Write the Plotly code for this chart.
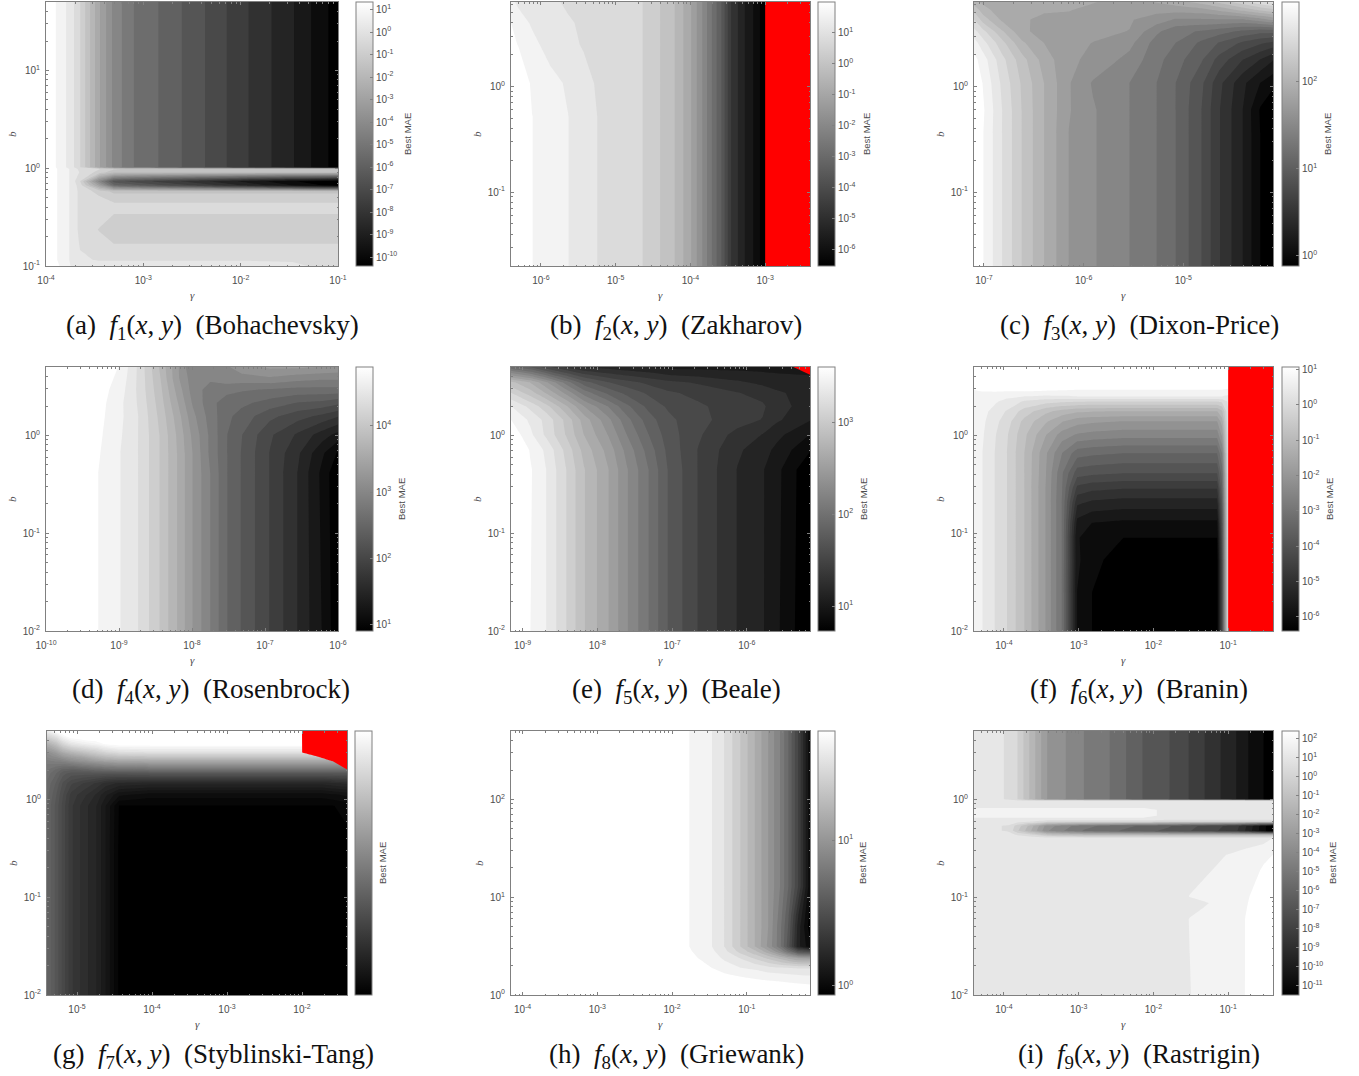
import plotly.graph_objects as go

W, H = 1359, 1076
N = None

# exponents of gamma and b at the sample nodes; shade = position on the colour bar (0 black .. 100 white)
gamma_a = [-4, -3.9, -3.75, -3.65, -3.45, -3.3, -3.1, -2.85, -2.375, -1.933, -1.466, -1.0]
b_a = [-1.0, -0.935, -0.782, -0.629, -0.458, -0.407, -0.356, -0.29, -0.237, -0.175, -0.134, -0.042, -0.008, 0.009, 1.7]
shade_a = [
    [102, 97, 91, 88, 88, 88, 88, 88, 88, 88, 87, 85],
    [102, 96, 90.5, 87, 86, 86, 86, 86, 86, 86, 86, 84.5],
    [102, 96, 90.5, 86, 84, 82, 82, 82, 82, 82, 82, 82],
    [102, 96, 90.5, 85, 81.5, 79, 79, 79, 79, 79, 79, 79],
    [102, 96, 90.5, 85, 84, 82, 82, 82, 82, 82, 82, 82],
    [102, 96, 90.5, 85, 85, 84, 84, 84, 84, 84, 84, 84],
    [102, 96, 90.5, 85, 83, 82, 82, 82, 82, 82, 82, 82],
    [102, 96, 90.5, 85, 82, 79, 79, 79, 79, 79, 79, 79],
    [102, 96, 90.5, 85, 80, 76, 76, 76, 76, 76, 76, 76],
    [102, 96, 90.5, 84, 62, 42, 38, 33, 25, 17, 9, 2],
    [102, 96, 90.5, 82, 52, 34, 30, 26, 19, 12, 5, 0],
    [102, 96, 90.5, 86, 80, 74, 74, 74, 74, 74, 74, 74],
    [102, 96, 90.5, 85, 82, 78, 76, 76, 76, 76, 76, 76],
    [102, 95.5, 89, 82, 64, 53, 45.5, 41, 32, 23, 14, 2],
    [102, 95.5, 89, 82, 64, 53, 45.5, 41, 32, 23, 14, 2],
]

gamma_b = [-6.4, -6.3, -6.115, -5.865, -5.638, -5.429, -5.215, -4.649, -4.391, -4.217, -4.09, -3.995, -3.848, -3.714, -3.58, -3.46, -3.282, -3.157, -3.0, -2.995, -2.4]
b_b = [-1.7, -0.283, 0.033, 0.396, 0.601, 0.8]
shade_b = [
    [103, 100, 95.5, 93, 91, 88.5, 86, 82, 77, 73, 68, 64, 55, 45.5, 36, 23, 14, 9, 1, N, N],
    [103, 100, 95.5, 93, 91, 88.5, 86, 82, 77, 73, 68, 64, 55, 45.5, 36, 23, 14, 9, 1, N, N],
    [103, 100, 94.5, 92.3, 90.3, 88, 85.5, 82, 77, 73, 68, 64, 55, 45.5, 36, 23, 14, 9, 1, N, N],
    [97, 95.2, 92.2, 89, 87.5, 86, 85, 82, 77, 73, 68, 64, 55, 45.5, 36, 23, 14, 9, 1, N, N],
    [95.5, 93, 90.3, 88, 87, 85.5, 84.8, 82, 77, 73, 68, 64, 55, 45.5, 36, 23, 14, 9, 1, N, N],
    [92, 90, 89, 87.5, 85.5, 84.5, 84, 82, 77, 73, 68, 64, 55, 45.5, 36, 23, 14, 9, 1, N, N],
]

gamma_c = [-7.1, -7.006, -6.81, -6.616, -6.392, -6.148, -5.904, -5.54, -5.269, -5.079, -4.821, -4.638, -4.41, -4.227, -4.1]
b_c = [-1.7, -0.44, -0.22, 0.033, 0.254, 0.412, 0.522, 0.633, 0.727, 0.8]
shade_c = [
    [100, 95.5, 86, 77, 68, 59, 55, 50, 45.5, 41, 32, 23, 14, 4.5, 1],
    [100, 95.5, 86, 77, 68, 59, 55, 50, 45.5, 41, 32, 23, 14, 4.5, 1],
    [100, 96, 86, 77, 68, 59.5, 55, 50, 45.5, 41, 32, 23, 14, 4, 0],
    [100, 95, 85, 76.5, 68, 59.5, 54, 50, 45.5, 41, 33, 24, 15, 9, 6],
    [97, 93, 83, 74.5, 66, 60, 58, 53, 47, 43, 37, 30, 23, 18, 14],
    [93, 88, 78.5, 69, 63.5, 60, 59, 56, 48, 45.5, 40, 36, 31, 28, 26],
    [88, 83, 73, 64.5, 62, 59.5, 60, 59, 51, 47, 45, 43, 40, 38, 38],
    [82, 75, 67, 64, 63, 62, 61, 59.5, 57, 54, 54, 54, 54, 57, 60],
    [76, 70, 65, 64, 64, 64, 62, 60, 60.5, 61, 62, 65, 70, 74, 76],
    [70, 67, 65, 64.5, 64.5, 64.5, 64, 61, 64, 66, 70, 74, 80, 85, 88],
]

gamma_d = [-10, -9.287, -8.985, -8.72, -8.437, -8.2, -7.99, -7.75, -7.52, -7.317, -6.93, -6.55, -6.22, -6.0]
b_d = [-2.0, -0.384, -0.18, 0.008, 0.195, 0.332, 0.468, 0.587, 0.7]
shade_d = [
    [110, 95.5, 91, 86, 77, 68, 59, 50, 41, 36, 27, 18, 9, 1],
    [110, 95.5, 91, 86, 77, 68, 59, 50, 41, 36, 27, 18, 8, 0.5],
    [110, 96, 91, 86, 77, 68, 59, 49, 41, 36, 27, 19, 10, 4],
    [110, 96.5, 91.5, 86, 77, 67.5, 58, 49, 41, 36.5, 28, 22, 16, 12],
    [110, 97, 92, 86, 76, 66, 56, 48, 42, 39, 33, 29, 26, 23],
    [110, 97.5, 92, 85.5, 75, 64, 54, 47, 43, 42, 39, 36, 35, 33],
    [110, 98, 93, 85, 74, 62, 52.5, 48, 47, 46, 45, 44, 44, 44],
    [112, 99, 94, 85, 73, 60, 52, 51, 53, 53, 54, 52, 51, 51],
    [115, 100, 95, 85, 72, 60, 50, 50, 54, 57, 60, 60, 59, 58],
]

gamma_e = [-9.155, -8.897, -8.687, -8.42, -8.175, -7.859, -7.605, -7.315, -7.048, -6.647, -6.126, -5.787, -5.6, -5.155]
b_e = [-2.0, -0.35, -0.146, 0.008, 0.161, 0.298, 0.434, 0.543, 0.7]
shade_e = [
    [105, 95.5, 91, 82, 73, 64, 55, 45.5, 36, 27, 18, 14, 10, 0],
    [105, 96, 91, 82, 73, 64, 55, 45.5, 36, 27, 18, 14, 10.5, 0.5],
    [103, 95, 90, 80.5, 71, 62, 53, 43.5, 35, 27, 19, 15.5, 12.5, 5],
    [99, 92, 85.5, 77, 68, 59, 50, 41, 34, 28, 21, 18, 15, 9],
    [95.5, 90, 85, 76, 66, 56, 47, 38.5, 33, 28.5, 25, 22.5, 19, 14],
    [91, 85, 79, 69, 59, 50, 42, 35, 31, 28, 25, 23.5, 20, 16],
    [82, 75, 68, 58, 48, 40, 35, 31, 28, 26, 23, 21, 19, 16],
    [74, 68, 60, 48, 38, 32, 29, 26, 24, 22, 19, 17, 16, 15],
    [42, 36, 29, 22, 18, 16.5, 15, 14, 12, 12, 12, 12, 12, 12],
]

gamma_f = [-4.4, -4.289, -4.11, -3.963, -3.732, -3.442, -3.22, -3.019, -2.819, -2.396, -1.148, -1.082, -1.0, -0.995, -0.4]
b_f = [-2.0, -1.612, -1.271, -1.049, -0.896, -0.691, -0.538, -0.384, -0.18, 0.008, 0.144, 0.247, 0.349, 0.4, 0.468, 0.57, 0.7]
shade_f = [
    [93, 91, 86, 82, 73, 59, 45, 9, 4.5, 2, 2, 30, 85, N, N],
    [93, 91, 86, 82, 73, 59, 45, 9, 4.5, 2, 2, 30, 85, N, N],
    [93, 91, 86, 82, 73, 59, 45, 10, 6, 2, 2, 30, 85, N, N],
    [93, 91, 86, 82, 73, 59, 45, 9.5, 7, 4.5, 4.5, 32, 85, N, N],
    [93, 91, 86, 82, 73, 59, 45, 12, 9, 8, 8, 33, 85, N, N],
    [93, 91, 86, 82, 73, 59, 45, 19, 17, 16, 16, 36, 85, N, N],
    [93, 91, 86, 82, 73, 59, 45.5, 26, 24, 23, 23, 40, 85, N, N],
    [93, 91, 86, 82, 73, 59.5, 46, 34, 33, 32, 32, 43, 85, N, N],
    [93, 91, 86, 82, 73, 60, 50, 43, 42, 41, 41, 50, 85, N, N],
    [93, 91.5, 86.5, 82.5, 74, 64, 57, 54, 53, 52, 52, 60, 85, N, N],
    [93.5, 92, 87.5, 84, 76, 69, 64, 61, 60, 59, 59, 66, 86, N, N],
    [93.5, 92.5, 89, 86, 80, 74, 71, 69, 68.5, 68, 68, 72, 86, N, N],
    [94, 93, 91.5, 89.5, 86, 84, 83, 82.5, 82, 82, 82, 83, 87, N, N],
    [94.5, 94, 93, 92, 91, 90, 90.5, 91, 91, 91, 91, 91, 90, N, N],
    [95.5, 96, 96.5, 96.5, 97, 96.5, 96, 95.5, 95.5, 95.5, 95.5, 95.5, 95, N, N],
    [100, 100, 100, 100, 100, 100, 100, 100, 100, 100, 100, 100, 100, N, N],
    [102, 102, 102, 102, 102, 102, 102, 102, 102, 102, 102, 102, 102, N, N],
]

gamma_g = [-5.4, -5.275, -5.186, -5.075, -4.919, -4.741, -4.617, -4.439, -4.03, -2.917, -2.0, -1.996, -1.76, -1.582, -1.4]
b_g = [-2.0, -0.55, -0.066, 0.046, 0.165, 0.268, 0.302, 0.315, 0.38, 0.394, 0.424, 0.438, 0.472, 0.485, 0.567, 0.642, 0.7]
shade_g = [
    [40, 34, 29, 23, 19, 15, 10, 2, 1, 1, 1, 1, 1, 1, 1],
    [40, 34, 29, 23, 19, 15, 10, 2, 1, 1, 1, 1, 1, 1, 1],
    [40, 34, 29, 23, 19, 15, 10, 2.4, 2.4, 2.4, 2.4, 2.4, 2.4, 2.4, 3.5],
    [41, 35, 30, 24, 21, 17, 13, 8, 6, 6, 6, 6, 6, 7, 8],
    [42, 37, 32, 28, 25, 22, 19, 17, 16, 16, 16, 16, 16, 17, 18],
    [44, 40, 36, 34, 34, 34, 34, 34, 35, 35, 35, 35, 35, 35, 35],
    [45, 42, 39, 38, 39, 41, 42, 43, 44, 44, 44, 44, 44, 44, 44],
    [46, 43, 41, 40, 42, 44, 45, 46, 47, 47, 47, 47, 47, 47, 47],
    [48, 49, 50, 52, 55, 58, 60, 62, 63, 63, 63, 63, 63, 63, 63],
    [49, 51, 52, 55, 58, 62, 64, 65, 66, 66, 66, 66, 66, 66, 66],
    [52, 54, 57, 60, 63, 68, 71, 73, 74, 74, 74, 74, 74, 74, 74],
    [53, 56, 60, 63, 66, 71, 74, 76, 77, 77, 77, 77, 77, 77, 77],
    [55, 60, 65, 69, 73, 78, 81, 84, 85, 85, 85, 85, 85, 85, 85],
    [57, 62, 68, 72, 76, 80, 84, 87, 88, 88, 88, 88, 88, 88, 88],
    [68, 75, 83, 89, 92, 95, 98, 100, 100, 100, 100, 100, 100, 100, 100],
    [82, 88, 95, 100, 102, 102, 102, 102, 102, 102, 102, 102, 102, 102, 102],
    [92, 100, 102, 102, 102, 102, 102, 102, 102, 102, 102, 102, 102, 102, 102],
]

gamma_h = [-4.155, -1.772, -1.469, -1.291, -1.081, -0.89, -0.712, -0.556, -0.445, -0.311, -0.155]
b_h = [0, 0.106, 0.197, 0.276, 0.378, 0.446, 0.497, 0.701, 0.804, 1.11, 2.7]
shade_h = [
    [102, 102, 102, 102, 102, 102, 102, 102, 102, 102, 102],
    [102, 102, 101, 100, 99, 98, 97.5, 97, 96.5, 96, 95.5],
    [102, 101, 98, 96.5, 95, 94, 93, 92.5, 92, 91.5, 91],
    [102, 99, 95.5, 93, 91, 90, 88, 87, 86.5, 86, 86],
    [102, 97, 93, 90, 86, 81, 76, 71, 67, 63, 62],
    [102, 96, 92, 87.5, 80, 74, 65, 55, 45, 33, 30],
    [102, 95.5, 91, 86, 77, 68, 58, 47, 34, 15, 6],
    [102, 95.5, 91, 86, 77, 68, 59, 47, 36, 16, 2],
    [102, 95.5, 91, 86, 77, 68, 59, 48, 37, 18, 3],
    [102, 95.5, 91, 86, 77, 68, 59, 50, 41, 27, 6],
    [102, 95.5, 91, 86, 77, 68, 59, 50, 41, 27, 6],
]

gamma_i = [-4.4, -3.946, -3.821, -3.665, -3.42, -3.197, -2.93, -2.587, -2.128, -1.794, -1.514, -1.327, -0.903, -0.77, -0.525, -0.4]
b_i = [-2.0, -1.224, -1.06, -0.992, -0.72, -0.567, -0.396, -0.362, -0.321, -0.27, -0.226, -0.195, -0.168, -0.107, -0.08, -0.015, 0.002, 0.7]
shade_i = [
    [89, 89, 89, 89, 89, 89, 89, 89, 89, 89, 90.8, 92, 94.5, 95.5, 97, 98],
    [89, 89, 89, 89, 89, 89, 89, 89, 89, 89, 91, 92, 94, 95.5, 97, 98],
    [89, 89, 89, 89, 89, 89, 89, 89, 89, 89, 90, 90.5, 93, 95.2, 97, 98],
    [89, 89, 89, 89, 89, 89, 89, 89, 89, 89, 91, 92, 93.5, 95, 97, 98],
    [89, 89, 89, 89, 89, 89, 89, 89, 89, 89, 89.5, 90.3, 92.5, 93, 96, 97],
    [89, 89, 89, 89, 89, 89, 89, 89, 89, 89, 89.5, 90, 91.3, 92, 94.5, 95.5],
    [89, 89, 89, 89, 89, 89, 89, 89, 89, 89, 89, 89, 89, 89, 89, 91],
    [88, 88, 86, 84, 76, 74, 72, 72, 72, 72, 72, 72, 72, 72, 72, 72],
    [88, 86, 78, 70, 55, 50, 45, 42, 38, 35, 32, 30, 24, 18, 6, 0],
    [88, 86, 80, 72, 57, 52, 47, 44, 40, 37, 33, 31, 25, 19, 6, 0],
    [89, 89, 88, 87, 84, 84, 84, 84, 84, 82, 82, 82, 82, 82, 82, 82],
    [90, 90, 90, 90, 90, 90, 90, 90, 90, 89, 89, 89, 89, 89, 89, 89],
    [93, 93, 93, 93, 93, 93, 93, 93, 93, 89, 89, 89, 89, 89, 89, 89],
    [93, 93, 93, 93, 93, 93, 93, 93, 93, 89, 89, 89, 89, 89, 89, 89],
    [90, 90, 90, 90, 90, 90, 90, 90, 90, 89, 89, 89, 89, 89, 89, 89],
    [89, 88, 88, 88, 88, 88, 88, 88, 88, 88, 88, 88, 88, 88, 88, 88],
    [89, 86, 82, 73, 59, 55, 50, 45.5, 36, 32, 27, 23, 14, 10, 4.5, 0],
    [89, 86, 82, 73, 59, 55, 50, 45.5, 36, 32, 27, 23, 14, 10, 4.5, 0],
]

# the diverged (red) regions: 1 inside, 0 outside, on their own nodes
red_gamma_b = [-3.002, -2.998, -2.4]
red_b_b = [-1.7, 0.8]
red_b = [[0, 1, 1], [0, 1, 1]]
red_gamma_e = [-5.601, -5.155]
red_b_e = [0.544, 0.7]
red_e = [[0, 0], [0, 1]]
red_gamma_f = [-1.002, -0.998, -0.4]
red_b_f = [-2.0, 0.7]
red_f = [[0, 1, 1], [0, 1, 1]]
red_gamma_g = [-2.002, -1.998, -1.76, -1.582, -1.4]
red_b_g = [0.233, 0.308, 0.387, 0.431, 0.479, 0.7]
red_g = [[0, 0, 0, 0, 0], [0, 0, 0, 0, 0.5], [0, 0, 0, 0.5, 1], [0, 0, 0.5, 1, 1], [0, 0.5, 1, 1, 1], [0, 1, 1, 1, 1]]
red_regions = {1: (red_gamma_b, red_b_b, red_b), 4: (red_gamma_e, red_b_e, red_e),
               5: (red_gamma_f, red_b_f, red_f), 6: (red_gamma_g, red_b_g, red_g)}

captions = ["(a)", "(b)", "(c)", "(d)", "(e)", "(f)", "(g)", "(h)", "(i)"]
names = ["Bohachevsky", "Zakharov", "Dixon-Price", "Rosenbrock", "Beale", "Branin", "Styblinski-Tang", "Griewank", "Rastrigin"]
gamma_ticks = [[-4, -3, -2, -1], [-6, -5, -4, -3], [-7, -6, -5], [-10, -9, -8, -7, -6], [-9, -8, -7, -6],
               [-4, -3, -2, -1], [-5, -4, -3, -2], [-4, -3, -2, -1], [-4, -3, -2, -1]]
b_ticks = [[-1, 0, 1], [-1, 0], [-1, 0], [-2, -1, 0], [-2, -1, 0], [-2, -1, 0], [-2, -1, 0], [0, 1, 2], [-2, -1, 0]]
bar_ticks = [list(range(-10, 2)), list(range(-6, 2)), [0, 1, 2], [1, 2, 3, 4], [1, 2, 3], list(range(-6, 2)), [],
             [0, 1], list(range(-11, 3))]
bar_range = [(-10.4, 1.34), (-6.54, 1.98), (-0.115, 2.91), (0.9, 4.89), (0.73, 3.6), (-6.4, 1.065), (0, 4), (-0.064, 1.75), (-11.49, 2.38)]
x_range = [(-4, -1), (-6.4, -2.4), (-7.1, -4.1), (-10, -6), (-9.155, -5.155), (-4.4, -0.4), (-5.4, -1.4), (-4.155, -0.155), (-4.4, -0.4)]
y_range = [(-1, 1.7), (-1.7, 0.8), (-1.7, 0.8), (-2, 0.7), (-2, 0.7), (-2, 0.7), (-2, 0.7), (0, 2.7), (-2, 0.7)]
gammas = [gamma_a, gamma_b, gamma_c, gamma_d, gamma_e, gamma_f, gamma_g, gamma_h, gamma_i]
bs = [b_a, b_b, b_c, b_d, b_e, b_f, b_g, b_h, b_i]
shades = [shade_a, shade_b, shade_c, shade_d, shade_e, shade_f, shade_g, shade_h, shade_i]

# pixel layout of the panels
boxes = [(46, 338, 2, 266), (511, 810, 2, 266), (974, 1273, 2, 266),
         (46, 338, 367, 631), (511, 810, 367, 631), (974, 1273, 367, 631),
         (47, 347, 731, 995), (511, 810, 731, 995), (974, 1273, 731, 995)]
bars = [356, 818, 1282, 356, 818, 1282, 355, 818, 1282]
mae_x = [407, 866, 1327, 401, 863, 1329, 383, 863, 1333]
b_x = [12, 477, 940, 12, 477, 940, 13, 479, 940]
cap_x = [212, 676, 1139, 211, 676, 1139, 213, 676, 1139]
cap_y = [327, 327, 327, 691, 691, 691, 1056, 1056, 1056]
gam_y = [295, 295, 295, 660, 660, 660, 1024, 1024, 1024]
bands = [22, 22, 22, 22, 22, 22, 40, 22, 22]

GRAY = [[0, "#000000"], [1, "#ffffff"]]
REDS = [[0, "rgba(255,0,0,0)"], [1, "rgba(255,0,0,1)"]]
TICK = "#4d4d4d"
LINE = "#808080"


def sup(e):
    return f"10<sup>{e}</sup>"


fig = go.Figure()
ann = []
for i in range(9):
    x0, x1, y0, y1 = boxes[i]
    s = "" if i == 0 else str(i + 1)
    lo, hi = bar_range[i]
    zvals = [[None if v is None else lo + v / 100 * (hi - lo) for v in row] for row in shades[i]]
    step = (hi - lo) / bands[i]
    fig.add_trace(go.Contour(
        x=[10 ** v for v in gammas[i]], y=[10 ** v for v in bs[i]], z=zvals,
        xaxis="x" + s, yaxis="y" + s, zmin=lo, zmax=hi, autocontour=False,
        contours=dict(start=lo + step, end=hi - step, size=step, coloring="fill", showlines=False),
        line=dict(width=0, smoothing=0), colorscale=GRAY, showscale=False, connectgaps=True,
        hoverinfo="skip"))
    if i in red_regions:
        rx, ry, rz = red_regions[i]
        fig.add_trace(go.Contour(
            x=[10 ** v for v in rx], y=[10 ** v for v in ry], z=rz, xaxis="x" + s, yaxis="y" + s,
            zmin=0, zmax=1, autocontour=False,
            contours=dict(start=0.499, end=0.499, size=1, coloring="fill", showlines=False),
            line=dict(width=0, smoothing=0), colorscale=REDS, showscale=False, hoverinfo="skip"))
    fig.add_trace(go.Scatter(
        x=[None, None], y=[None, None], mode="markers", xaxis="x" + s, yaxis="y" + s, showlegend=False,
        marker=dict(color=[lo, hi], cmin=lo, cmax=hi, colorscale=GRAY, showscale=True, colorbar=dict(
            x=bars[i] / W, xanchor="left", xpad=0, ypad=0, y=1 - (y0 + y1) / 2 / H, yanchor="middle",
            lenmode="pixels", len=y1 - y0, thicknessmode="pixels", thickness=17,
            outlinecolor=LINE, outlinewidth=1, tickmode="array", tickvals=bar_ticks[i],
            ticktext=[sup(e) for e in bar_ticks[i]], ticks="inside" if bar_ticks[i] else "", ticklen=3,
            tickcolor=LINE, tickfont=dict(family="Liberation Sans", size=10, color=TICK)))))
    axis = dict(type="log", showgrid=False, zeroline=False, showline=True, linecolor=LINE, linewidth=1,
                mirror="ticks", ticks="inside", ticklen=3, tickcolor=LINE, tickmode="array",
                tickfont=dict(family="Liberation Sans", size=10, color=TICK),
                minor=dict(ticks="inside", ticklen=1.5, tickcolor=LINE, dtick="D1", showgrid=False))
    fig.layout["xaxis" + s] = dict(axis, domain=[x0 / W, x1 / W], range=list(x_range[i]), anchor="y" + s,
                                   ticklabelstandoff=5,
                                   tickvals=[10 ** e for e in gamma_ticks[i]],
                                   ticktext=[sup(e) for e in gamma_ticks[i]])
    fig.layout["yaxis" + s] = dict(axis, domain=[1 - y1 / H, 1 - y0 / H], range=list(y_range[i]), anchor="x" + s,
                                   ticklabelstandoff=3,
                                   tickvals=[10 ** e for e in b_ticks[i]],
                                   ticktext=[sup(e) for e in b_ticks[i]])
    common = dict(xref="paper", yref="paper", showarrow=False, xanchor="center", yanchor="middle")
    ann.append(dict(common, x=(x0 + x1) / 2 / W, y=1 - gam_y[i] / H, text="<i>γ</i>",
                    font=dict(family="Liberation Serif", size=11, color=TICK)))
    ann.append(dict(common, x=b_x[i] / W, y=1 - (y0 + y1) / 2 / H, text="<i>b</i>", textangle=-90,
                    font=dict(family="Liberation Serif", size=11, color=TICK)))
    ann.append(dict(common, x=mae_x[i] / W, y=1 - (y0 + y1) / 2 / H, text="Best MAE", textangle=-90,
                    font=dict(family="Liberation Sans", size=9.5, color=TICK)))
    ann.append(dict(common, x=cap_x[i] / W, y=1 - cap_y[i] / H,
                    text=f"{captions[i]}&nbsp;&nbsp;<i>f</i><sub>{i + 1}</sub>(<i>x</i>,&nbsp;<i>y</i>)&nbsp;&nbsp;({names[i]})",
                    font=dict(family="Liberation Serif", size=27, color="#111111")))

fig.update_layout(width=W, height=H, margin=dict(l=0, r=0, t=0, b=0, autoexpand=False), paper_bgcolor="white",
                  plot_bgcolor="white", showlegend=False, annotations=ann)
fig.write_html("out.html", config={"displayModeBar": False}, post_script="document.body.style.margin='0';")
